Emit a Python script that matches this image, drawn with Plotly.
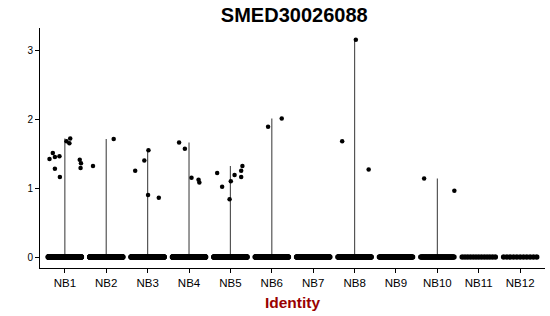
import numpy as np
import plotly.graph_objects as go

clusters = ["NB1", "NB2", "NB3", "NB4", "NB5", "NB6", "NB7", "NB8", "NB9", "NB10", "NB11", "NB12"]

# non-zero expression values per cluster
pos_values = {
    "NB1": [1.42, 1.51, 1.45, 1.28, 1.46, 1.16, 1.68, 1.72, 1.65, 1.41, 1.36, 1.29],
    "NB2": [1.32, 1.71],
    "NB3": [1.25, 1.40, 1.55, 0.90, 0.86],
    "NB4": [1.66, 1.57, 1.15, 1.12, 1.08],
    "NB5": [1.22, 1.02, 0.84, 1.10, 1.19, 1.25, 1.16, 1.32],
    "NB6": [1.89, 2.01],
    "NB7": [],
    "NB8": [1.68, 3.15, 1.27],
    "NB9": [],
    "NB10": [1.14, 0.96],
    "NB11": [],
    "NB12": [],
}
# horizontal jitter of those points (category units)
pos_jitter = {
    "NB1": [-0.37, -0.29, -0.24, -0.24, -0.13, -0.12, 0.04, 0.13, 0.11, 0.36, 0.39, 0.38],
    "NB2": [-0.32, 0.18],
    "NB3": [-0.30, -0.08, 0.02, 0.01, 0.27],
    "NB4": [-0.24, -0.10, 0.06, 0.23, 0.25],
    "NB5": [-0.32, -0.20, -0.02, 0.01, 0.10, 0.26, 0.26, 0.29],
    "NB6": [-0.09, 0.24],
    "NB7": [],
    "NB8": [-0.30, 0.03, 0.34],
    "NB9": [],
    "NB10": [-0.32, 0.41],
    "NB11": [],
    "NB12": [],
}
# number of cells with zero expression per cluster
zero_counts = [260, 240, 230, 230, 220, 150, 140, 130, 70, 45, 13, 11]

fig = go.Figure()

for i, c in enumerate(clusters):
    vals = pos_values[c]
    # flat violin base at zero
    fig.add_trace(go.Scatter(x=[i - 0.45, i + 0.45], y=[0, 0], mode="lines",
                             line=dict(color="#555555", width=1), hoverinfo="skip", showlegend=False))
    if vals:
        fig.add_trace(go.Scatter(x=[i, i], y=[0, max(vals)], mode="lines",
                                 line=dict(color="#555555", width=1.2), hoverinfo="skip", showlegend=False))

for i, c in enumerate(clusters):
    n = zero_counts[i]
    xs = i + np.linspace(-0.4, 0.4, n)
    fig.add_trace(go.Scatter(x=xs, y=np.zeros(n), mode="markers",
                             marker=dict(color="black", size=5.5, line=dict(width=0)),
                             showlegend=False))
    if pos_values[c]:
        fig.add_trace(go.Scatter(x=[i + d for d in pos_jitter[c]], y=pos_values[c], mode="markers",
                                 marker=dict(color="black", size=4.5, line=dict(width=0)),
                                 showlegend=False))

fig.update_layout(
    width=550, height=316,
    margin=dict(l=40, r=5, t=28, b=48),
    paper_bgcolor="white", plot_bgcolor="white",
    font=dict(family="Liberation Sans, Arial, sans-serif", color="black"),
    title=dict(text="<b>SMED30026088</b>", x=0.535, xanchor="center", y=0.952, yanchor="middle",
               font=dict(size=20, color="black")),
    showlegend=False,
)
fig.update_xaxes(
    range=[-0.6, 11.6], tickmode="array", tickvals=list(range(len(clusters))), ticktext=clusters,
    showline=True, linecolor="black", linewidth=1, ticks="outside", ticklen=4, tickcolor="black",
    showgrid=False, zeroline=False, tickfont=dict(size=11.5, color="black"),
    title=dict(text="<b>Identity</b>", font=dict(size=15.5, color="#990000"), standoff=9),
)
fig.update_yaxes(
    range=[-0.158, 3.32], tickvals=[0, 1, 2, 3],
    showline=True, linecolor="black", linewidth=1, ticks="outside", ticklen=4, tickcolor="black",
    showgrid=False, zeroline=False, tickfont=dict(size=10, color="black"),
)

fig.write_html("out.html")
